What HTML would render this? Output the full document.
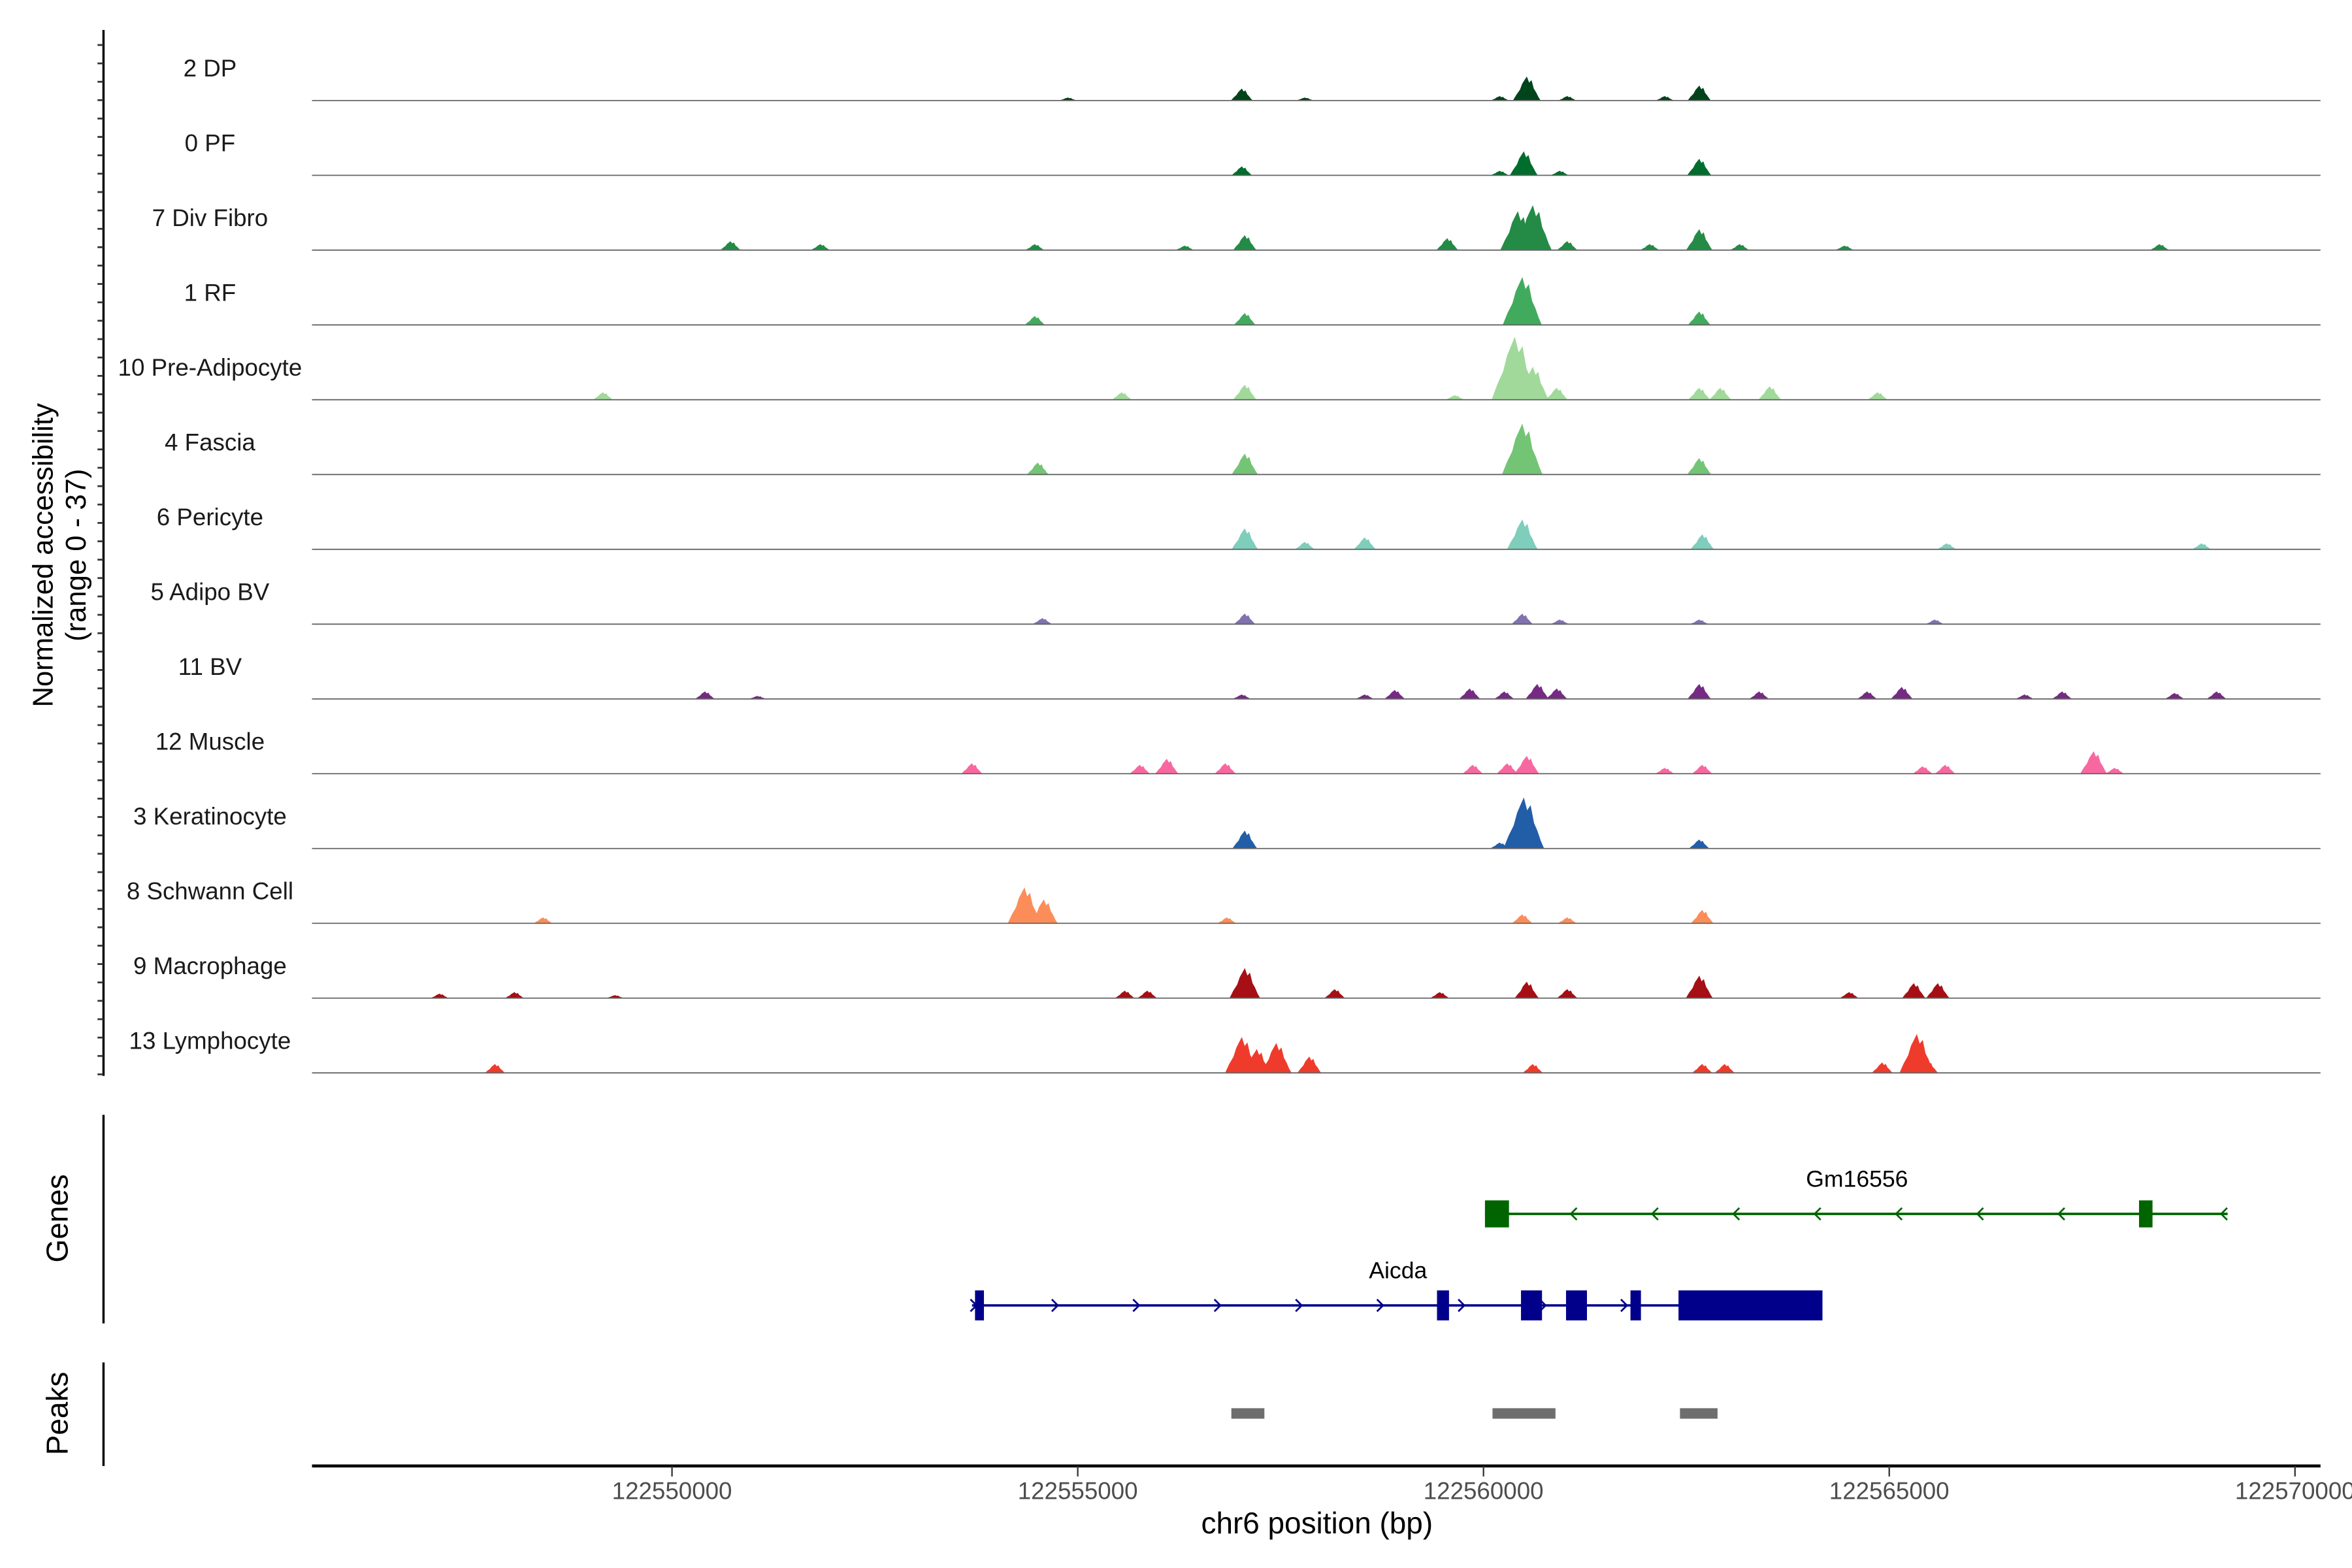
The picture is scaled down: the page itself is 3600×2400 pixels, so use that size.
<!DOCTYPE html>
<html><head><meta charset="utf-8"><style>
html,body{margin:0;padding:0;background:#fff}
svg{display:block}
text{font-family:"Liberation Sans",sans-serif}
</style></head><body>
<svg id="chart" width="3600" height="2400" viewBox="0 0 1568 1045" preserveAspectRatio="none" xmlns="http://www.w3.org/2000/svg">
<rect width="1568" height="1045" fill="#fff"/>
<g id="tracks"></g>
<g id="leftaxis"></g>
<text transform="translate(35,370) rotate(-90)" text-anchor="middle" font-size="19">Normalized accessibility</text>
<text transform="translate(57,370) rotate(-90)" text-anchor="middle" font-size="19">(range 0 - 37)</text>
<g id="genes"></g>
<g id="peaks"></g>
<g id="xaxis"></g>
<text x="878" y="1022" text-anchor="middle" font-size="20">chr6 position (bp)</text>
</svg>
<script>
const trackNames = ["2 DP","0 PF","7 Div Fibro","1 RF","10 Pre-Adipocyte","4 Fascia","6 Pericyte","5 Adipo BV","11 BV","12 Muscle","3 Keratinocyte","8 Schwann Cell","9 Macrophage","13 Lymphocyte"];
const trackColors = ["#00441b","#006d2c","#238b45","#41ab5d","#a1d99b","#74c476","#7fcdbb","#8073ac","#762a83","#f768a1","#225ea8","#fc8d59","#a50f15","#ef3b2c"];
const peakPositions = [
 [122557022,122560534,122562659,122560201,122561033,122562234,122554879,122557799],
 [122557022,122560497,122562659,122560201,122560940],
 [122550721,122551830,122554472,122557059,122560423,122560608,122562659,122556320,122559554,122561033,122562049,122563158,122568332,122564451],
 [122554472,122557059,122560478,122562659],
 [122549150,122555544,122557059,122560386,122560608,122560903,122562659,122562918,122563528,122564858,122559647],
 [122554509,122557059,122560478,122562659],
 [122557059,122560478,122562696,122558538,122557799,122565709,122568850],
 [122554565,122557059,122560478,122560940,122562659,122565561],
 [122550407,122551053,122557022,122558538,122558907,122559831,122560257,122560663,122560903,122562659,122563398,122564729,122565155,122566669,122567131,122568517,122569035],
 [122553696,122555766,122556098,122556819,122559868,122560293,122560534,122562234,122562696,122565413,122565690,122567519,122567778],
 [122557059,122560497,122562659,122560201],
 [122548411,122554343,122554583,122556838,122560478,122561033,122562696],
 [122547136,122548060,122549298,122555581,122555858,122557059,122558168,122559462,122560534,122561033,122562659,122564507,122565303,122565598],
 [122547819,122557022,122557207,122557448,122557854,122560608,122562696,122562973,122564914,122565340,122565469]
];
const peakValues = [
 [8,16,10,3,3,3,2,2],
 [6,16,11,3,3],
 [6,4,4,10,26,30,14,3,8,6,4,4,4,3],
 [6,8,32,9],
 [5,5,10,42,22,8,8,8,9,5,3],
 [8,14,34,11],
 [14,20,10,8,5,4,4],
 [4,7,7,3,3,3],
 [5,2,3,3,6,7,5,10,7,10,5,5,8,3,5,4,5],
 [7,6,10,7,6,7,12,4,6,5,6,15,4],
 [12,34,6,4],
 [4,24,16,4,6,4,9],
 [3,4,2,5,5,20,6,4,11,6,15,4,10,10],
 [6,24,16,20,11,6,6,6,7,26,8]
];
const xTicks = [122550000,122555000,122560000,122565000,122570000];
const geneNames = ["Gm16556","Aicda"];
const geneStarts = [122560018,122553697];
const geneEnds = [122569170,122564177];
const geneStrand = [-1,1];
const geneExons = [
 [[122560018,122560314],[122568078,122568244]],
 [[122553734,122553844],[122559427,122559575],[122560462,122560721],[122561017,122561275],[122561811,122561940],[122562403,122564177]]
];
const peakStarts = [122556893,122560111,122562421];
const peakEnds = [122557300,122560887,122562884];

const X0=208, X1=1547;
function xs(bp){return 448+(bp-122550000)*270.5/5000;}
function ys(v){return v*1.0;}
const NS="http://www.w3.org/2000/svg";
function mk(tag,attrs,parent){const e=document.createElementNS(NS,tag);for(const k in attrs)e.setAttribute(k,attrs[k]);parent.appendChild(e);return e;}
const tracks=document.getElementById('tracks');
const shape=[[-6,0],[-4.5,0.25],[-3,0.45],[-2,0.7],[-1,0.85],[0,1],[1,0.75],[2,0.85],[3,0.5],[4,0.35],[5,0.15],[6,0]];
trackNames.forEach((nm,i)=>{
  const base=67+i*49.85;
  const g=mk('g',{},tracks);
  
  
  const lab=mk('text',{x:140,y:base-16,'text-anchor':'middle','font-size':'16',fill:'#1a1a1a'},g);
  lab.textContent=nm;
  
  
  peakPositions[i].forEach((p,j)=>{
    const cx=xs(p), h=ys(peakValues[i][j]);
    const w=0.9+h/25;
    const pts=shape.map(s=>(cx+s[0]*w).toFixed(1)+','+(base-s[1]*h).toFixed(1)).join(' ');
    const pk=mk('polygon',{points:pts,fill:trackColors[i]},g);
    
    
  });
  const bl=mk('line',{x1:X0,x2:X1,y1:base,y2:base,stroke:'#666','stroke-width':'0.8'},g);
  
  
});
const la=document.getElementById('leftaxis');
mk('line',{x1:69,x2:69,y1:20,y2:717,stroke:'#000','stroke-width':'1.5'},la);
for(let y=30;y<=716;y+=12.25){mk('line',{x1:65,x2:69,y1:y,y2:y,stroke:'#333','stroke-width':'1.2'},la);}
mk('line',{x1:69,x2:69,y1:743,y2:882,stroke:'#000','stroke-width':'1.5'},la);
mk('line',{x1:69,x2:69,y1:908,y2:977,stroke:'#000','stroke-width':'1.5'},la);
const gl=mk('text',{transform:'translate(45,812) rotate(-90)','text-anchor':'middle','font-size':'20'},la);gl.textContent='Genes';


const pl=mk('text',{transform:'translate(45,942) rotate(-90)','text-anchor':'middle','font-size':'20'},la);pl.textContent='Peaks';



const gg=document.getElementById('genes');
const geneY=[809,870], geneCol=['#006400','#00008b'];
geneNames.forEach((nm,i)=>{
  const y=geneY[i], c=geneCol[i];
  const g=mk('g',{},gg);
  
  
  const a=xs(geneStarts[i]), b=xs(geneEnds[i]);
  mk('line',{x1:a,x2:b,y1:y,y2:y,stroke:c,'stroke-width':'1.6'},g);
  for(let x=a+3;x<=b;x+=54.2){
    const d=geneStrand[i]*4;
    mk('polyline',{points:`${x-d},${y-4} ${x},${y} ${x-d},${y+4}`,fill:'none',stroke:c,'stroke-width':'1.2'},g);
  }
  geneExons[i].forEach(e=>{
    const ex=mk('rect',{x:xs(e[0]),y:y-(i==0?9:10),width:Math.max(xs(e[1])-xs(e[0]),4),height:(i==0?18:20),fill:c},g);
    
    
  });
  const t=mk('text',{x:i==0?1238:932,y:y-18,'text-anchor':'middle','font-size':'15.5'},g);t.textContent=nm;
});
const pg=document.getElementById('peaks');
peakStarts.forEach((s,i)=>{
  const r=mk('rect',{x:xs(s),y:938.5,width:xs(peakEnds[i])-xs(s),height:7,fill:'#6e6e6e'},pg);
  
  
});
const xa=document.getElementById('xaxis');
mk('line',{x1:X0,x2:X1,y1:977,y2:977,stroke:'#000','stroke-width':'2'},xa);
xTicks.forEach(t=>{
  const x=xs(t);
  mk('line',{x1:x,x2:x,y1:977,y2:984,stroke:'#333','stroke-width':'1'},xa);
  const tx=mk('text',{x:x,y:999,'text-anchor':'middle','font-size':'16',fill:'#4d4d4d'},xa);tx.textContent=String(t);
  
  
});
</script>
</body></html>
